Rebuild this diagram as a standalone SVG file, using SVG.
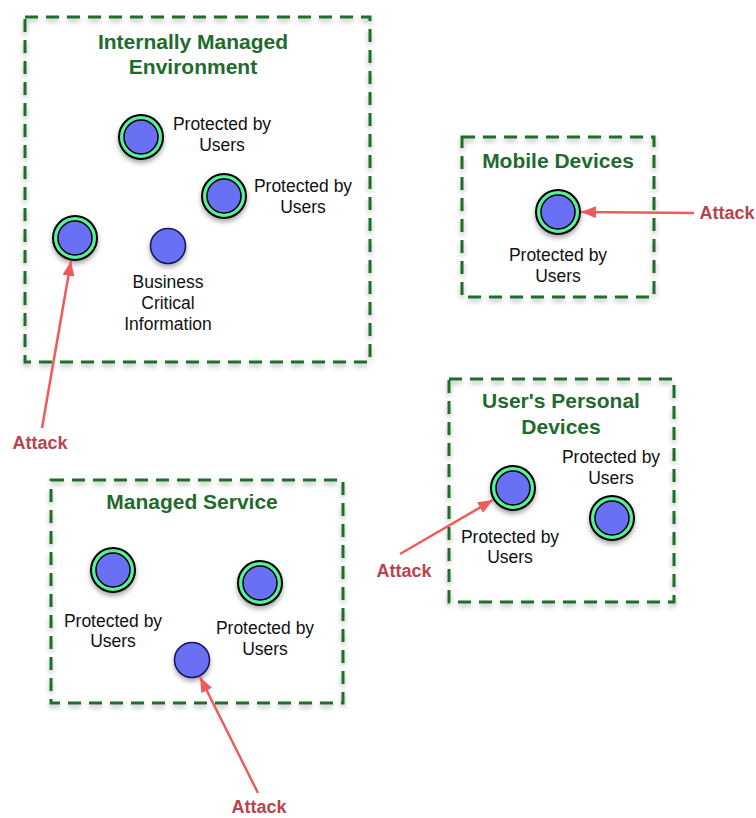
<svg xmlns="http://www.w3.org/2000/svg" width="756" height="818" viewBox="0 0 756 818">
<defs>
<filter id="sh" x="-20%" y="-20%" width="140%" height="140%"><feDropShadow dx="0" dy="3" stdDeviation="2.5" flood-color="#000" flood-opacity="0.35"/></filter>
<filter id="bsh" x="-5%" y="-5%" width="110%" height="110%"><feDropShadow dx="0" dy="3" stdDeviation="2.5" flood-color="#000" flood-opacity="0.3"/></filter>
<marker id="ah" markerUnits="userSpaceOnUse" markerWidth="16" markerHeight="12" refX="15" refY="6" orient="auto"><path d="M0,0 L15,6 L0,12 z" fill="#ef5a5a"/></marker>
</defs>
<style>
.box{fill:none;stroke:#1e6e2a;stroke-width:3;stroke-dasharray:13 8;filter:url(#bsh)}
.title{font-family:"Liberation Sans",Arial,sans-serif;font-weight:bold;font-size:21px;fill:#1f6b2d;text-anchor:middle}
.lbl{font-family:"Liberation Sans",Arial,sans-serif;font-size:17.5px;fill:#111;text-anchor:middle}
.atk{font-family:"Liberation Sans",Arial,sans-serif;font-weight:bold;font-size:18px;fill:#b8434f;text-anchor:middle}
.ring{fill:#55f29a;stroke:#000;stroke-width:2}
.core{fill:#6b70f4;stroke:#000;stroke-width:1.5}
.plain{fill:#6b70f4;stroke:#14145a;stroke-width:1.5}
.arr{fill:none;stroke:#ef5a5a;stroke-width:2.5;marker-end:url(#ah)}
</style>
<rect width="756" height="818" fill="#fff"/>

<g id="box-internal">
<rect class="box" x="25" y="17" width="345" height="345"/>
<text class="title" x="193" y="49">Internally Managed</text>
<text class="title" x="193" y="74">Environment</text>
</g>
<g id="box-mobile">
<rect class="box" x="462" y="137" width="192" height="160"/>
<text class="title" x="558" y="168">Mobile Devices</text>
</g>
<g id="box-personal">
<rect class="box" x="449" y="379" width="225" height="223"/>
<text class="title" x="561" y="408">User's Personal</text>
<text class="title" x="561" y="434">Devices</text>
</g>
<g id="box-managed">
<rect class="box" x="51" y="480" width="292" height="223"/>
<text class="title" x="192" y="509">Managed Service</text>
</g>

<g id="node-ime-1" filter="url(#sh)">
<circle class="ring" cx="141" cy="137" r="22"/><circle class="core" cx="141" cy="137" r="17"/>
</g>
<g id="label-ime-1"><text class="lbl" x="222" y="130">Protected by</text><text class="lbl" x="222" y="151">Users</text></g>
<g id="node-ime-2" filter="url(#sh)">
<circle class="ring" cx="224" cy="196" r="22"/><circle class="core" cx="224" cy="196" r="17"/>
</g>
<g id="label-ime-2"><text class="lbl" x="303" y="192">Protected by</text><text class="lbl" x="303" y="213">Users</text></g>
<g id="node-ime-3" filter="url(#sh)">
<circle class="ring" cx="75" cy="238" r="22"/><circle class="core" cx="75" cy="238" r="17"/>
</g>
<g id="node-bci">
<circle class="plain" cx="168" cy="246" r="17.5" filter="url(#sh)"/>
<text class="lbl" x="168" y="288">Business</text><text class="lbl" x="168" y="309">Critical</text><text class="lbl" x="168" y="330">Information</text>
</g>

<g id="node-mobile">
<g filter="url(#sh)"><circle class="ring" cx="558" cy="212" r="22"/><circle class="core" cx="558" cy="212" r="17"/></g>
<text class="lbl" x="558" y="261">Protected by</text><text class="lbl" x="558" y="282">Users</text>
</g>

<g id="node-personal-1">
<g filter="url(#sh)"><circle class="ring" cx="513" cy="488" r="22"/><circle class="core" cx="513" cy="488" r="17"/></g>
<text class="lbl" x="510" y="543">Protected by</text><text class="lbl" x="510" y="563">Users</text>
</g>
<g id="node-personal-2">
<g filter="url(#sh)"><circle class="ring" cx="612" cy="518" r="22"/><circle class="core" cx="612" cy="518" r="17"/></g>
<text class="lbl" x="611" y="463">Protected by</text><text class="lbl" x="611" y="484">Users</text>
</g>

<g id="node-managed-1">
<g filter="url(#sh)"><circle class="ring" cx="113" cy="570" r="22"/><circle class="core" cx="113" cy="570" r="17"/></g>
<text class="lbl" x="113" y="627">Protected by</text><text class="lbl" x="113" y="647">Users</text>
</g>
<g id="node-managed-2">
<g filter="url(#sh)"><circle class="ring" cx="260" cy="583" r="22"/><circle class="core" cx="260" cy="583" r="17"/></g>
<text class="lbl" x="265" y="634">Protected by</text><text class="lbl" x="265" y="655">Users</text>
</g>
<g id="node-managed-3">
<circle class="plain" cx="192" cy="660" r="17.5" filter="url(#sh)"/>
</g>

<g id="attack-1"><text class="atk" x="40" y="449">Attack</text></g>
<g id="attack-2"><text class="atk" x="727" y="219">Attack</text></g>
<g id="attack-3"><text class="atk" x="404" y="577">Attack</text></g>
<g id="attack-4"><text class="atk" x="259" y="813">Attack</text></g>

<g id="connectors">
<line class="arr" x1="42" y1="428" x2="71" y2="261"/>
<line class="arr" x1="694" y1="213" x2="581" y2="212"/>
<line class="arr" x1="400" y1="554" x2="493" y2="500"/>
<line class="arr" x1="258" y1="793" x2="200" y2="677"/>
</g>
</svg>
